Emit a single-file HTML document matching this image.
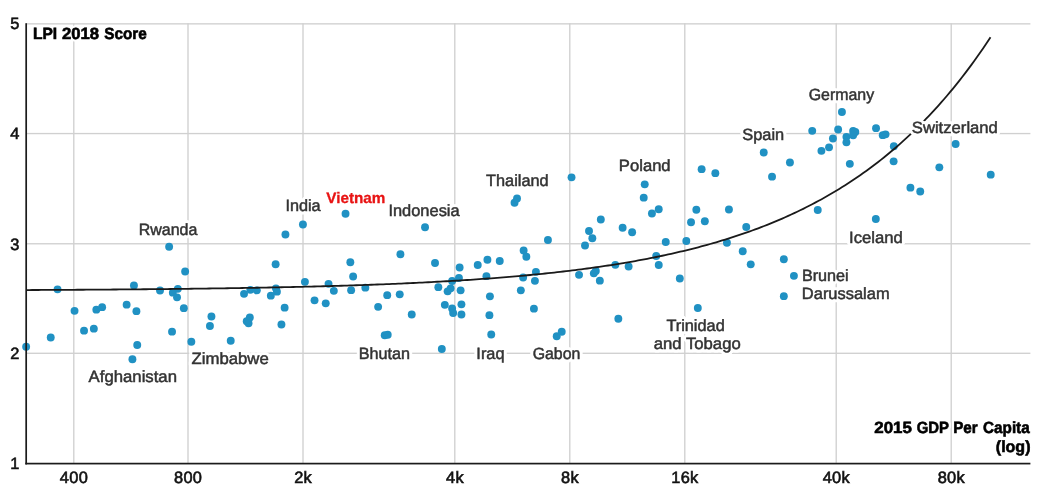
<!DOCTYPE html>
<html lang="en"><head><meta charset="utf-8"><title>LPI 2018 Score vs 2015 GDP Per Capita</title>
<style>
html,body{margin:0;padding:0;background:#fff;}
body{width:1053px;height:496px;overflow:hidden;font-family:"Liberation Sans",sans-serif;}
svg{display:block;font-family:"Liberation Sans",sans-serif;text-rendering:geometricPrecision;}
.grid rect{fill:#d0d0d0;}
.axis rect{fill:#1b1b1b;}
.tick{font-size:16.4px;fill:#111;stroke:#111;stroke-width:0.6px;letter-spacing:0.3px;}
.lab{font-size:16.3px;fill:#333;stroke:#333;stroke-width:0.5px;filter:url(#halo);}
.ttl{font-size:16.2px;font-weight:bold;fill:#000;stroke:#000;stroke-width:0.6px;filter:url(#halo2);}
.hl{font-size:15.2px;font-weight:bold;fill:#e81414;stroke:#e81414;stroke-width:0.3px;filter:url(#halo);}
.dots circle{fill:#2091c3;}
.trend{fill:none;stroke:#1a1a1a;stroke-width:1.8;stroke-linecap:butt;}
</style></head><body>
<svg width="1053" height="496" viewBox="0 0 1053 496">
<defs><filter id="halo" x="-15%" y="-50%" width="130%" height="200%" color-interpolation-filters="sRGB"><feMorphology in="SourceAlpha" operator="dilate" radius="3 1" result="m0"/><feMorphology in="SourceAlpha" operator="dilate" radius="1 3" result="m1"/><feMorphology in="SourceAlpha" operator="dilate" radius="2 2" result="m2"/><feMerge result="d"><feMergeNode in="m0"/><feMergeNode in="m1"/><feMergeNode in="m2"/></feMerge><feFlood flood-color="#fff"/><feComposite in2="d" operator="in" result="h"/><feMerge><feMergeNode in="h"/><feMergeNode in="SourceGraphic"/></feMerge></filter><filter id="halo2" x="-15%" y="-50%" width="130%" height="200%" color-interpolation-filters="sRGB"><feMorphology in="SourceAlpha" operator="dilate" radius="2 1" result="m0"/><feMorphology in="SourceAlpha" operator="dilate" radius="1 2" result="m1"/><feMerge result="d"><feMergeNode in="m0"/><feMergeNode in="m1"/></feMerge><feFlood flood-color="#fff"/><feComposite in2="d" operator="in" result="h"/><feMerge><feMergeNode in="h"/><feMergeNode in="SourceGraphic"/></feMerge></filter></defs>
<rect width="100%" height="100%" fill="#fff"/>
<g class="grid">
<rect x="73.12" y="23.22" width="1.35" height="439.70"/>
<rect x="187.32" y="23.22" width="1.35" height="439.70"/>
<rect x="302.32" y="23.22" width="1.35" height="439.70"/>
<rect x="454.12" y="23.22" width="1.35" height="439.70"/>
<rect x="569.12" y="23.22" width="1.35" height="439.70"/>
<rect x="684.12" y="23.22" width="1.35" height="439.70"/>
<rect x="835.53" y="23.22" width="1.35" height="439.70"/>
<rect x="950.53" y="23.22" width="1.35" height="439.70"/>
<rect x="26.18" y="352.62" width="1004.22" height="1.35"/>
<rect x="26.18" y="243.10" width="1004.22" height="1.35"/>
<rect x="26.18" y="132.88" width="1004.22" height="1.35"/>
<rect x="26.18" y="23.18" width="1004.22" height="1.35"/>
</g>
<g class="dots">
<circle cx="26.13" cy="346.73" r="3.95"/>
<circle cx="50.73" cy="337.43" r="3.95"/>
<circle cx="57.53" cy="289.33" r="3.95"/>
<circle cx="74.53" cy="310.83" r="3.95"/>
<circle cx="84.03" cy="330.63" r="3.95"/>
<circle cx="93.83" cy="328.63" r="3.95"/>
<circle cx="96.33" cy="309.63" r="3.95"/>
<circle cx="102.13" cy="307.13" r="3.95"/>
<circle cx="126.63" cy="304.63" r="3.95"/>
<circle cx="133.93" cy="285.53" r="3.95"/>
<circle cx="136.43" cy="311.13" r="3.95"/>
<circle cx="137.23" cy="344.93" r="3.95"/>
<circle cx="132.43" cy="359.23" r="3.95"/>
<circle cx="160.03" cy="290.53" r="3.95"/>
<circle cx="169.13" cy="246.73" r="3.95"/>
<circle cx="172.03" cy="331.63" r="3.95"/>
<circle cx="172.83" cy="292.63" r="3.95"/>
<circle cx="177.83" cy="288.83" r="3.95"/>
<circle cx="177.03" cy="297.33" r="3.95"/>
<circle cx="185.13" cy="271.53" r="3.95"/>
<circle cx="183.83" cy="308.13" r="3.95"/>
<circle cx="191.33" cy="341.73" r="3.95"/>
<circle cx="211.43" cy="316.43" r="3.95"/>
<circle cx="209.93" cy="325.93" r="3.95"/>
<circle cx="230.73" cy="340.73" r="3.95"/>
<circle cx="244.03" cy="293.83" r="3.95"/>
<circle cx="250.33" cy="289.83" r="3.95"/>
<circle cx="256.83" cy="290.33" r="3.95"/>
<circle cx="249.83" cy="317.43" r="3.95"/>
<circle cx="246.73" cy="321.13" r="3.95"/>
<circle cx="248.53" cy="323.23" r="3.95"/>
<circle cx="275.63" cy="264.23" r="3.95"/>
<circle cx="275.93" cy="288.33" r="3.95"/>
<circle cx="276.93" cy="291.63" r="3.95"/>
<circle cx="270.83" cy="295.63" r="3.95"/>
<circle cx="284.63" cy="307.63" r="3.95"/>
<circle cx="281.43" cy="324.43" r="3.95"/>
<circle cx="304.93" cy="281.83" r="3.95"/>
<circle cx="314.53" cy="300.33" r="3.95"/>
<circle cx="325.73" cy="303.33" r="3.95"/>
<circle cx="328.53" cy="283.83" r="3.95"/>
<circle cx="333.83" cy="290.83" r="3.95"/>
<circle cx="350.33" cy="262.23" r="3.95"/>
<circle cx="353.13" cy="276.53" r="3.95"/>
<circle cx="351.13" cy="290.13" r="3.95"/>
<circle cx="365.33" cy="287.63" r="3.95"/>
<circle cx="378.13" cy="306.83" r="3.95"/>
<circle cx="387.23" cy="295.13" r="3.95"/>
<circle cx="399.73" cy="294.33" r="3.95"/>
<circle cx="400.43" cy="254.23" r="3.95"/>
<circle cx="384.73" cy="335.23" r="3.95"/>
<circle cx="387.73" cy="334.73" r="3.95"/>
<circle cx="411.73" cy="314.43" r="3.95"/>
<circle cx="435.03" cy="263.03" r="3.95"/>
<circle cx="438.33" cy="287.13" r="3.95"/>
<circle cx="441.83" cy="348.93" r="3.95"/>
<circle cx="444.83" cy="304.83" r="3.95"/>
<circle cx="447.63" cy="291.33" r="3.95"/>
<circle cx="450.63" cy="288.33" r="3.95"/>
<circle cx="452.13" cy="281.03" r="3.95"/>
<circle cx="452.13" cy="308.43" r="3.95"/>
<circle cx="453.13" cy="312.93" r="3.95"/>
<circle cx="458.93" cy="278.03" r="3.95"/>
<circle cx="459.63" cy="267.53" r="3.95"/>
<circle cx="460.63" cy="290.33" r="3.95"/>
<circle cx="461.43" cy="304.33" r="3.95"/>
<circle cx="461.43" cy="314.43" r="3.95"/>
<circle cx="477.73" cy="265.03" r="3.95"/>
<circle cx="487.43" cy="259.73" r="3.95"/>
<circle cx="486.43" cy="276.13" r="3.95"/>
<circle cx="489.93" cy="296.33" r="3.95"/>
<circle cx="489.43" cy="315.13" r="3.95"/>
<circle cx="491.23" cy="334.43" r="3.95"/>
<circle cx="499.73" cy="261.03" r="3.95"/>
<circle cx="523.63" cy="250.53" r="3.95"/>
<circle cx="526.33" cy="256.73" r="3.95"/>
<circle cx="535.93" cy="271.83" r="3.95"/>
<circle cx="523.13" cy="277.53" r="3.95"/>
<circle cx="534.93" cy="280.83" r="3.95"/>
<circle cx="520.83" cy="290.33" r="3.95"/>
<circle cx="533.93" cy="308.63" r="3.95"/>
<circle cx="585.03" cy="245.53" r="3.95"/>
<circle cx="556.73" cy="336.23" r="3.95"/>
<circle cx="561.73" cy="331.73" r="3.95"/>
<circle cx="579.03" cy="274.83" r="3.95"/>
<circle cx="593.83" cy="273.33" r="3.95"/>
<circle cx="595.83" cy="271.03" r="3.95"/>
<circle cx="599.83" cy="280.63" r="3.95"/>
<circle cx="615.33" cy="264.83" r="3.95"/>
<circle cx="618.33" cy="318.73" r="3.95"/>
<circle cx="628.63" cy="266.53" r="3.95"/>
<circle cx="656.23" cy="256.03" r="3.95"/>
<circle cx="658.73" cy="265.03" r="3.95"/>
<circle cx="679.83" cy="278.53" r="3.95"/>
<circle cx="697.83" cy="307.93" r="3.95"/>
<circle cx="726.93" cy="242.73" r="3.95"/>
<circle cx="742.73" cy="251.23" r="3.95"/>
<circle cx="750.73" cy="264.33" r="3.95"/>
<circle cx="783.83" cy="259.23" r="3.95"/>
<circle cx="793.93" cy="275.83" r="3.95"/>
<circle cx="783.83" cy="296.13" r="3.95"/>
<circle cx="285.43" cy="234.53" r="3.95"/>
<circle cx="302.93" cy="224.53" r="3.95"/>
<circle cx="345.53" cy="213.73" r="3.95"/>
<circle cx="425.03" cy="227.23" r="3.95"/>
<circle cx="514.53" cy="202.73" r="3.95"/>
<circle cx="517.03" cy="198.43" r="3.95"/>
<circle cx="547.93" cy="240.03" r="3.95"/>
<circle cx="571.53" cy="177.33" r="3.95"/>
<circle cx="589.03" cy="231.03" r="3.95"/>
<circle cx="592.33" cy="238.23" r="3.95"/>
<circle cx="600.83" cy="219.43" r="3.95"/>
<circle cx="622.63" cy="227.73" r="3.95"/>
<circle cx="632.13" cy="232.23" r="3.95"/>
<circle cx="644.73" cy="184.33" r="3.95"/>
<circle cx="643.73" cy="197.63" r="3.95"/>
<circle cx="651.93" cy="213.43" r="3.95"/>
<circle cx="658.73" cy="209.23" r="3.95"/>
<circle cx="665.73" cy="242.03" r="3.95"/>
<circle cx="686.33" cy="241.03" r="3.95"/>
<circle cx="691.03" cy="222.23" r="3.95"/>
<circle cx="696.33" cy="209.73" r="3.95"/>
<circle cx="704.83" cy="221.23" r="3.95"/>
<circle cx="701.63" cy="169.13" r="3.95"/>
<circle cx="715.33" cy="173.13" r="3.95"/>
<circle cx="728.93" cy="209.43" r="3.95"/>
<circle cx="746.23" cy="227.03" r="3.95"/>
<circle cx="763.73" cy="152.53" r="3.95"/>
<circle cx="772.03" cy="176.63" r="3.95"/>
<circle cx="789.93" cy="162.53" r="3.95"/>
<circle cx="812.23" cy="130.83" r="3.95"/>
<circle cx="817.73" cy="209.93" r="3.95"/>
<circle cx="821.43" cy="150.83" r="3.95"/>
<circle cx="829.03" cy="147.33" r="3.95"/>
<circle cx="832.93" cy="138.43" r="3.95"/>
<circle cx="838.13" cy="129.43" r="3.95"/>
<circle cx="846.43" cy="136.83" r="3.95"/>
<circle cx="846.43" cy="142.33" r="3.95"/>
<circle cx="849.83" cy="163.83" r="3.95"/>
<circle cx="853.13" cy="131.03" r="3.95"/>
<circle cx="855.33" cy="132.03" r="3.95"/>
<circle cx="853.13" cy="135.23" r="3.95"/>
<circle cx="876.03" cy="128.13" r="3.95"/>
<circle cx="882.73" cy="135.13" r="3.95"/>
<circle cx="885.53" cy="134.33" r="3.95"/>
<circle cx="893.83" cy="146.23" r="3.95"/>
<circle cx="893.63" cy="161.33" r="3.95"/>
<circle cx="875.83" cy="218.93" r="3.95"/>
<circle cx="910.43" cy="187.63" r="3.95"/>
<circle cx="920.23" cy="191.43" r="3.95"/>
<circle cx="939.33" cy="167.33" r="3.95"/>
<circle cx="955.63" cy="144.03" r="3.95"/>
<circle cx="990.73" cy="174.63" r="3.95"/>
<circle cx="841.93" cy="111.93" r="3.95"/>
</g>
<g class="axis">
<rect x="25.33" y="23.22" width="1.7" height="441.23"/>
<rect x="25.33" y="462.75" width="1005.07" height="1.7"/>
</g>
<path class="trend" d="M26.2,290.04 L29.2,290.03 L32.2,290.01 L35.2,290.00 L38.2,289.98 L41.2,289.97 L44.2,289.95 L47.2,289.94 L50.2,289.92 L53.2,289.91 L56.2,289.89 L59.2,289.87 L62.2,289.86 L65.2,289.84 L68.2,289.82 L71.2,289.81 L74.2,289.79 L77.2,289.77 L80.2,289.75 L83.2,289.73 L86.2,289.71 L89.2,289.69 L92.2,289.67 L95.2,289.65 L98.2,289.63 L101.2,289.61 L104.2,289.59 L107.2,289.56 L110.2,289.54 L113.2,289.52 L116.2,289.50 L119.2,289.47 L122.2,289.45 L125.2,289.42 L128.2,289.40 L131.2,289.37 L134.2,289.35 L137.2,289.32 L140.2,289.29 L143.2,289.27 L146.2,289.24 L149.2,289.21 L152.2,289.18 L155.2,289.15 L158.2,289.12 L161.2,289.09 L164.2,289.06 L167.2,289.03 L170.2,288.99 L173.2,288.96 L176.2,288.93 L179.2,288.89 L182.2,288.86 L185.2,288.82 L188.2,288.79 L191.2,288.75 L194.2,288.71 L197.2,288.67 L200.2,288.64 L203.2,288.60 L206.2,288.56 L209.2,288.52 L212.2,288.47 L215.2,288.43 L218.2,288.39 L221.2,288.34 L224.2,288.30 L227.2,288.25 L230.2,288.21 L233.2,288.16 L236.2,288.11 L239.2,288.06 L242.2,288.01 L245.2,287.96 L248.2,287.91 L251.2,287.86 L254.2,287.80 L257.2,287.75 L260.2,287.69 L263.2,287.64 L266.2,287.58 L269.2,287.52 L272.2,287.46 L275.2,287.40 L278.2,287.34 L281.2,287.27 L284.2,287.21 L287.2,287.14 L290.2,287.08 L293.2,287.01 L296.2,286.94 L299.2,286.87 L302.2,286.80 L305.2,286.72 L308.2,286.65 L311.2,286.57 L314.2,286.50 L317.2,286.42 L320.2,286.34 L323.2,286.26 L326.2,286.18 L329.2,286.09 L332.2,286.00 L335.2,285.92 L338.2,285.83 L341.2,285.74 L344.2,285.65 L347.2,285.55 L350.2,285.46 L353.2,285.36 L356.2,285.26 L359.2,285.16 L362.2,285.05 L365.2,284.95 L368.2,284.84 L371.2,284.73 L374.2,284.62 L377.2,284.51 L380.2,284.40 L383.2,284.28 L386.2,284.16 L389.2,284.04 L392.2,283.92 L395.2,283.79 L398.2,283.66 L401.2,283.53 L404.2,283.40 L407.2,283.26 L410.2,283.13 L413.2,282.99 L416.2,282.84 L419.2,282.70 L422.2,282.55 L425.2,282.40 L428.2,282.25 L431.2,282.09 L434.2,281.93 L437.2,281.77 L440.2,281.61 L443.2,281.44 L446.2,281.27 L449.2,281.09 L452.2,280.92 L455.2,280.74 L458.2,280.55 L461.2,280.37 L464.2,280.17 L467.2,279.98 L470.2,279.78 L473.2,279.58 L476.2,279.38 L479.2,279.17 L482.2,278.96 L485.2,278.74 L488.2,278.52 L491.2,278.30 L494.2,278.07 L497.2,277.84 L500.2,277.60 L503.2,277.36 L506.2,277.11 L509.2,276.86 L512.2,276.61 L515.2,276.35 L518.2,276.09 L521.2,275.82 L524.2,275.55 L527.2,275.27 L530.2,274.98 L533.2,274.69 L536.2,274.40 L539.2,274.10 L542.2,273.80 L545.2,273.49 L548.2,273.17 L551.2,272.85 L554.2,272.52 L557.2,272.19 L560.2,271.85 L563.2,271.50 L566.2,271.15 L569.2,270.79 L572.2,270.43 L575.2,270.06 L578.2,269.68 L581.2,269.29 L584.2,268.90 L587.2,268.50 L590.2,268.09 L593.2,267.68 L596.2,267.26 L599.2,266.83 L602.2,266.39 L605.2,265.94 L608.2,265.49 L611.2,265.03 L614.2,264.56 L617.2,264.08 L620.2,263.59 L623.2,263.10 L626.2,262.59 L629.2,262.08 L632.2,261.55 L635.2,261.02 L638.2,260.47 L641.2,259.92 L644.2,259.36 L647.2,258.78 L650.2,258.20 L653.2,257.60 L656.2,257.00 L659.2,256.38 L662.2,255.75 L665.2,255.11 L668.2,254.46 L671.2,253.80 L674.2,253.13 L677.2,252.44 L680.2,251.74 L683.2,251.03 L686.2,250.30 L689.2,249.56 L692.2,248.81 L695.2,248.04 L698.2,247.26 L701.2,246.47 L704.2,245.66 L707.2,244.83 L710.2,244.00 L713.2,243.14 L716.2,242.27 L719.2,241.39 L722.2,240.48 L725.2,239.57 L728.2,238.63 L731.2,237.68 L734.2,236.71 L737.2,235.72 L740.2,234.72 L743.2,233.70 L746.2,232.65 L749.2,231.59 L752.2,230.51 L755.2,229.41 L758.2,228.29 L761.2,227.15 L764.2,225.99 L767.2,224.81 L770.2,223.60 L773.2,222.38 L776.2,221.13 L779.2,219.86 L782.2,218.56 L785.2,217.25 L788.2,215.90 L791.2,214.54 L794.2,213.15 L797.2,211.73 L800.2,210.29 L803.2,208.82 L806.2,207.32 L809.2,205.80 L812.2,204.25 L815.2,202.67 L818.2,201.06 L821.2,199.42 L824.2,197.75 L827.2,196.06 L830.2,194.33 L833.2,192.57 L836.2,190.77 L839.2,188.95 L842.2,187.09 L845.2,185.20 L848.2,183.27 L851.2,181.31 L854.2,179.31 L857.2,177.28 L860.2,175.21 L863.2,173.10 L866.2,170.95 L869.2,168.76 L872.2,166.54 L875.2,164.27 L878.2,161.96 L881.2,159.61 L884.2,157.22 L887.2,154.78 L890.2,152.30 L893.2,149.77 L896.2,147.20 L899.2,144.57 L902.2,141.91 L905.2,139.19 L908.2,136.42 L911.2,133.61 L914.2,130.74 L917.2,127.82 L920.2,124.84 L923.2,121.82 L926.2,118.73 L929.2,115.59 L932.2,112.40 L935.2,109.14 L938.2,105.83 L941.2,102.45 L944.2,99.01 L947.2,95.51 L950.2,91.95 L953.2,88.32 L956.2,84.63 L959.2,80.87 L962.2,77.04 L965.2,73.14 L968.2,69.16 L971.2,65.12 L974.2,61.00 L977.2,56.81 L980.2,52.54 L983.2,48.19 L986.2,43.77 L989.2,39.26 L990.5,37.25"/>
<g class="tick" text-anchor="middle">
<text x="73.95" y="483.4">400</text>
<text x="188.15" y="483.4">800</text>
<text x="303.15" y="483.4">2k</text>
<text x="454.95" y="483.4">4k</text>
<text x="569.95" y="483.4">8k</text>
<text x="684.95" y="483.4">16k</text>
<text x="836.35" y="483.4">40k</text>
<text x="951.35" y="483.4">80k</text>
</g>
<g class="tick" text-anchor="end">
<text x="19.6" y="469.4">1</text>
<text x="19.6" y="359.1">2</text>
<text x="19.6" y="249.6">3</text>
<text x="19.6" y="139.4">4</text>
<text x="19.6" y="28.7">5</text>
</g>
<g>
<text class="lab" x="138.72" y="234.5" textLength="58.64" lengthAdjust="spacingAndGlyphs">Rwanda</text>
<text class="lab" x="88.61" y="382.2" textLength="88.36" lengthAdjust="spacingAndGlyphs">Afghanistan</text>
<text class="lab" x="191.64" y="363.7" textLength="77.13" lengthAdjust="spacingAndGlyphs">Zimbabwe</text>
<text class="lab" x="285.45" y="211.4" textLength="35.21" lengthAdjust="spacingAndGlyphs">India</text>
<text class="hl" x="326.25" y="202.6" textLength="59.11" lengthAdjust="spacingAndGlyphs">Vietnam</text>
<text class="lab" x="388.44" y="215.6" textLength="71.18" lengthAdjust="spacingAndGlyphs">Indonesia</text>
<text class="lab" x="358.71" y="358.8" textLength="51.3" lengthAdjust="spacingAndGlyphs">Bhutan</text>
<text class="lab" x="476.35" y="358.8" textLength="28.17" lengthAdjust="spacingAndGlyphs">Iraq</text>
<text class="lab" x="486.1" y="186.3" textLength="62.52" lengthAdjust="spacingAndGlyphs">Thailand</text>
<text class="lab" x="532.71" y="358.8" textLength="47.61" lengthAdjust="spacingAndGlyphs">Gabon</text>
<text class="lab" x="618.88" y="171.0" textLength="51.74" lengthAdjust="spacingAndGlyphs">Poland</text>
<text class="lab" x="666.4" y="330.8" textLength="58.32" lengthAdjust="spacingAndGlyphs">Trinidad</text>
<text class="lab" x="653.74" y="349.0" textLength="86.98" lengthAdjust="spacingAndGlyphs">and Tobago</text>
<text class="lab" x="742.3" y="139.8" textLength="41.96" lengthAdjust="spacingAndGlyphs">Spain</text>
<text class="lab" x="808.71" y="99.9" textLength="65.41" lengthAdjust="spacingAndGlyphs">Germany</text>
<text class="lab" x="911.79" y="132.7" textLength="86.1" lengthAdjust="spacingAndGlyphs">Switzerland</text>
<text class="lab" x="849.12" y="243.0" textLength="53.76" lengthAdjust="spacingAndGlyphs">Iceland</text>
<text class="lab" x="801.91" y="281.0" textLength="46.82" lengthAdjust="spacingAndGlyphs">Brunei</text>
<text class="lab" x="801.89" y="299.2" textLength="87.74" lengthAdjust="spacingAndGlyphs">Darussalam</text>
<text class="ttl" y="38.95"><tspan x="32.98" textLength="24.18" lengthAdjust="spacingAndGlyphs">LPI</tspan> <tspan x="61.94" textLength="37.07" lengthAdjust="spacingAndGlyphs">2018</tspan> <tspan x="104.3" textLength="42.44" lengthAdjust="spacingAndGlyphs">Score</tspan></text>
<text class="ttl" y="433.4"><tspan x="874.24" textLength="37.68" lengthAdjust="spacingAndGlyphs">2015</tspan> <tspan x="916.67" textLength="32.01" lengthAdjust="spacingAndGlyphs">GDP</tspan> <tspan x="953.2" textLength="24.52" lengthAdjust="spacingAndGlyphs">Per</tspan> <tspan x="983.06" textLength="46.65" lengthAdjust="spacingAndGlyphs">Capita</tspan></text>
<text class="ttl" x="995.81" y="452.0" textLength="34.7" lengthAdjust="spacingAndGlyphs">(log)</text>
</g>
</svg></body></html>
